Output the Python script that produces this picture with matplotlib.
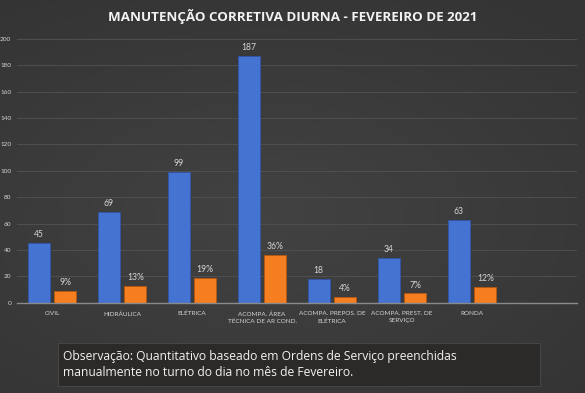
import numpy as np
import matplotlib
matplotlib.use("Agg")
import matplotlib.pyplot as plt
from matplotlib.patches import Rectangle

categories = ["CIVIL", "HIDRÁULICA", "ELÉTRICA", "ACOMPA. ÁREA\nTÉCNICA DE AR COND.",
              "ACOMPA. PREPOS. DE\nELÉTRICA", "ACOMPA. PREST. DE\nSERVIÇO", "RONDA"]
quantidade = [45, 69, 99, 187, 18, 34, 63]
percentual = [9, 13, 19, 36, 4, 7, 12]
yticks = list(range(0, 201, 20))
title = "MANUTENÇÃO CORRETIVA DIURNA - FEVEREIRO DE 2021"
note = ("Observação: Quantitativo baseado em Ordens de Serviço preenchidas\n"
        "manualmente no turno do dia no mês de Fevereiro.")

W, H = 585, 393
fig = plt.figure(figsize=(W / 100, H / 100), dpi=100)

# background gradient
bg = fig.add_axes([0, 0, 1, 1], zorder=-10)
yy, xx = np.mgrid[0:1:200j, 0:1:300j]
r = np.sqrt(((xx - 0.45) * 1.0) ** 2 + ((yy - 0.45) * 1.2) ** 2)
val = 0.26 - 0.07 * r
bg.imshow(np.dstack([val, val, val]), extent=[0, 1, 0, 1], aspect="auto", origin="lower")
bg.set_axis_off()

ax = fig.add_axes([17 / W, 1 - 302.7 / H, 560 / W, (302.7 - 39) / H])
ax.set_facecolor("none")
x = np.arange(len(categories))
w = 0.31
off = 0.19
ax.bar(x - off, quantidade, w, color="#4473d2", edgecolor="#2f55a8", linewidth=0.6, zorder=3)
ax.bar(x + off, percentual, w, color="#f47e20", edgecolor="#b8560f", linewidth=0.6, zorder=3)

lab_color = "#d4d4d4"
for xi, v in zip(x - off, quantidade):
    ax.text(xi, v + 3, str(v), ha="center", va="bottom", fontsize=6.2, color=lab_color, family="Lato")
for xi, v in zip(x + off, percentual):
    ax.text(xi, v + 3, f"{v}%", ha="center", va="bottom", fontsize=6.2, color=lab_color, family="Lato")

ax.set_xlim(-0.5, 7.5)
ax.set_ylim(0, 200)
ax.set_yticks(yticks)
ax.set_yticklabels([str(t) for t in yticks], fontsize=4.6, color=lab_color, family="Lato")
ax.set_xticks(x)
ax.set_xticklabels(categories, fontsize=4.6, color=lab_color, family="Lato", linespacing=1.6)
ax.tick_params(axis="both", length=0)
ax.tick_params(axis="x", pad=6)
ax.tick_params(axis="y", pad=4)
ax.yaxis.grid(True, color="#4f4f4f", linewidth=0.7, zorder=0)
for s in ["top", "right", "left"]:
    ax.spines[s].set_visible(False)
ax.spines["bottom"].set_color("#8a8a8a")
ax.spines["bottom"].set_linewidth(1.0)
ax.spines["bottom"].set_zorder(4)

fig.text(293 / W, 1 - 17 / H, title, ha="center", va="center", fontsize=9.6,
         fontweight="bold", color="#f2f2f2", family="Open Sans")

box = Rectangle((57.5 / W, 1 - 386 / H), (540 - 57.5) / W, (386 - 343) / H,
                transform=fig.transFigure, facecolor="#2c2a28", edgecolor="#454545",
                linewidth=0.8, zorder=1)
fig.patches.append(box)
fig.text(63 / W, 1 - 364.5 / H, note, ha="left", va="center", fontsize=8.7,
         color="#f2f2f2", family="Open Sans", linespacing=1.35, zorder=2)

fig.savefig("out.png", dpi=100)
